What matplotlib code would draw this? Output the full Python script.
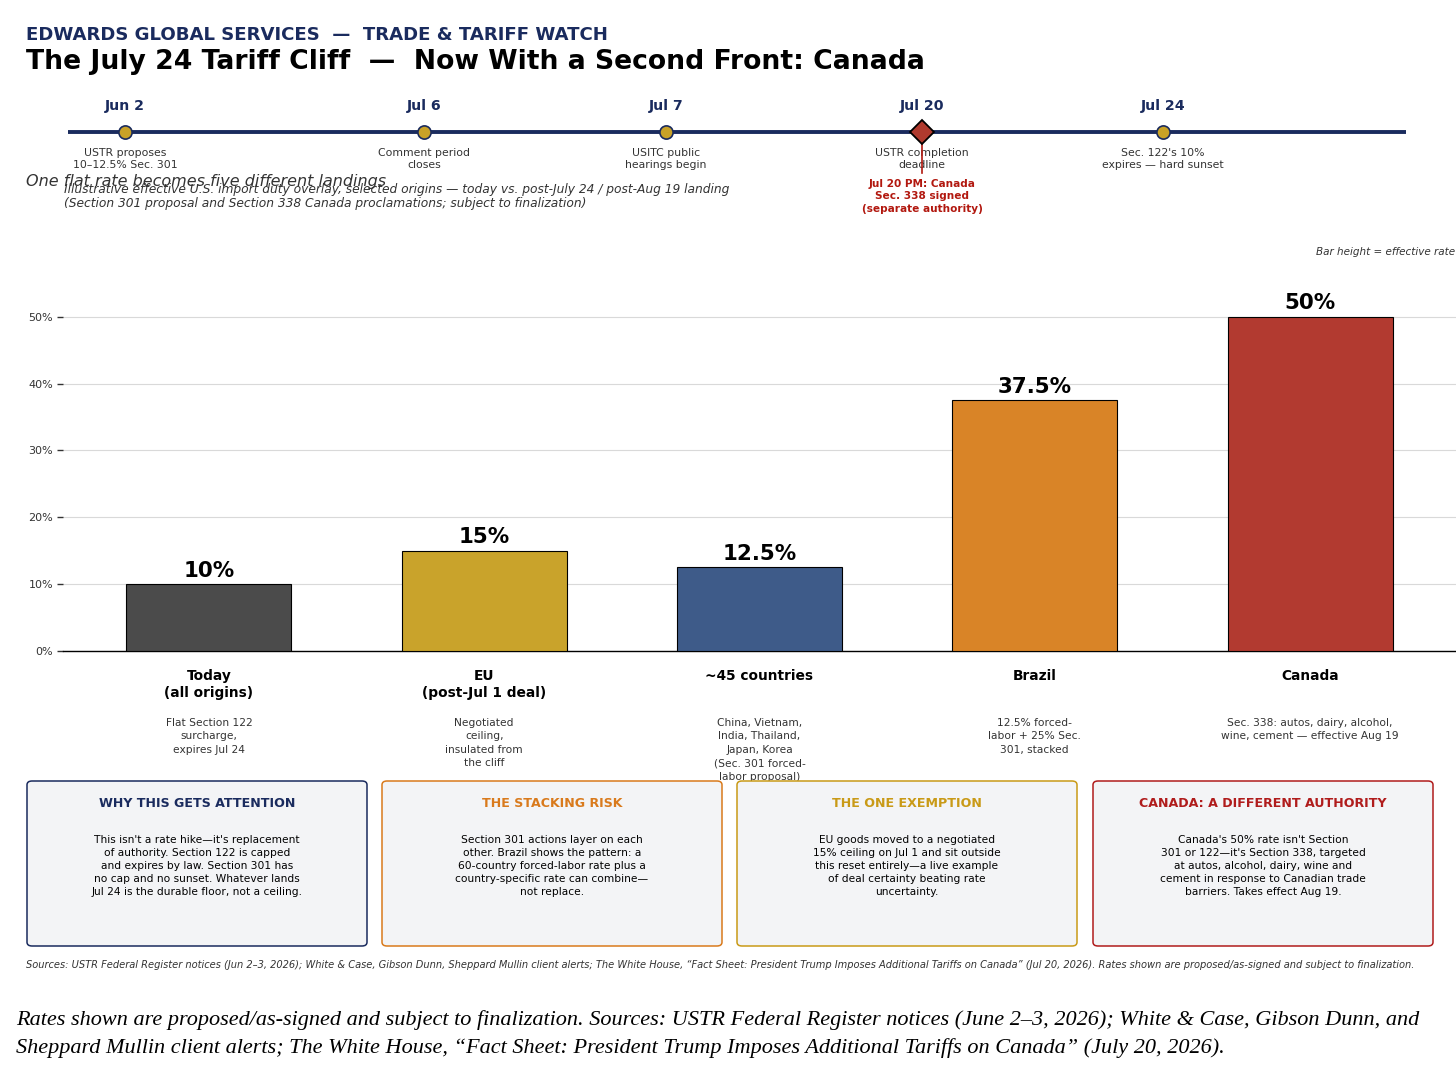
import matplotlib
matplotlib.use("Agg")
import matplotlib.pyplot as plt
from matplotlib.patches import FancyBboxPatch
from matplotlib.transforms import blended_transform_factory

plt.rcParams['font.family'] = ['DejaVu Sans']

W, H = 1456, 1092

# ---------------- data ----------------
header = "EDWARDS GLOBAL SERVICES  \u2014  TRADE & TARIFF WATCH"
title = "The July 24 Tariff Cliff  \u2014  Now With a Second Front: Canada"

timeline_dates = ["Jun 2", "Jul 6", "Jul 7", "Jul 20", "Jul 24"]
timeline_pos = [0.0, 1.158, 2.095, 3.087, 4.02]
timeline_desc = [
    "USTR proposes\n10\u201312.5% Sec. 301",
    "Comment period\ncloses",
    "USITC public\nhearings begin",
    "USTR completion\ndeadline",
    "Sec. 122's 10%\nexpires \u2014 hard sunset",
]
timeline_key = [False, False, False, True, False]
canada_note = "Jul 20 PM: Canada\nSec. 338 signed\n(separate authority)"

subtitle = "One flat rate becomes five different landings"
overlay_note = ("Illustrative effective U.S. import duty overlay, selected origins \u2014 today vs. post-July 24 / post-Aug 19 landing\n"
                "(Section 301 proposal and Section 338 Canada proclamations; subject to finalization)")
bar_note = "Bar height = effective rate"

categories = ["Today\n(all origins)", "EU\n(post-Jul 1 deal)", "~45 countries", "Brazil", "Canada"]
rates = [10, 15, 12.5, 37.5, 50]
rate_labels = ["10%", "15%", "12.5%", "37.5%", "50%"]
cat_desc = [
    "Flat Section 122\nsurcharge,\nexpires Jul 24",
    "Negotiated\nceiling,\ninsulated from\nthe cliff",
    "China, Vietnam,\nIndia, Thailand,\nJapan, Korea\n(Sec. 301 forced-\nlabor proposal)",
    "12.5% forced-\nlabor + 25% Sec.\n301, stacked",
    "Sec. 338: autos, dairy, alcohol,\nwine, cement \u2014 effective Aug 19",
]
bar_colors = ["#4b4b4b", "#c9a32b", "#3e5b89", "#d98427", "#b23a30"]
yticks = [0, 10, 20, 30, 40, 50]

box_titles = ["WHY THIS GETS ATTENTION", "THE STACKING RISK", "THE ONE EXEMPTION",
              "CANADA: A DIFFERENT AUTHORITY"]
box_bodies = [
    "This isn't a rate hike\u2014it's replacement\nof authority. Section 122 is capped\nand expires by law. Section 301 has\nno cap and no sunset. Whatever lands\nJul 24 is the durable floor, not a ceiling.",
    "Section 301 actions layer on each\nother. Brazil shows the pattern: a\n60-country forced-labor rate plus a\ncountry-specific rate can combine\u2014\nnot replace.",
    "EU goods moved to a negotiated\n15% ceiling on Jul 1 and sit outside\nthis reset entirely\u2014a live example\nof deal certainty beating rate\nuncertainty.",
    "Canada's 50% rate isn't Section\n301 or 122\u2014it's Section 338, targeted\nat autos, alcohol, dairy, wine and\ncement in response to Canadian trade\nbarriers. Takes effect Aug 19.",
]
box_colors = ["#1a2b5e", "#d97a1c", "#c99a17", "#b01c1c"]

sources = ("Sources: USTR Federal Register notices (Jun 2\u20133, 2026); White & Case, Gibson Dunn, Sheppard Mullin client alerts; "
           "The White House, \u201cFact Sheet: President Trump Imposes Additional Tariffs on Canada\u201d (Jul 20, 2026). "
           "Rates shown are proposed/as-signed and subject to finalization.")
footer = ("Rates shown are proposed/as-signed and subject to finalization. Sources: USTR Federal Register notices (June 2\u20133, 2026); White & Case, Gibson Dunn, and\n"
          "Sheppard Mullin client alerts; The White House, \u201cFact Sheet: President Trump Imposes Additional Tariffs on Canada\u201d (July 20, 2026).")

NAVY = "#1a2b5e"
GOLD = "#c9a227"
RED = "#b03a2e"
REDTXT = "#b2180f"
GREY = "#333333"


def fx(px):
    return px / W


def fy(py):
    return 1 - py / H


fig = plt.figure(figsize=(W / 100, H / 100), dpi=100)
fig.patch.set_facecolor("white")

# ---------------- header ----------------
fig.text(fx(26), fy(35), header, fontsize=13.1, fontweight="bold", color=NAVY, va="center", ha="left")
fig.text(fx(26), fy(62), title, fontsize=19.2, fontweight="bold", color="black", va="center", ha="left")

# ---------------- timeline ----------------
ax_tl = fig.add_axes([fx(68), fy(141.5), fx(1406 - 68), 20 / H])
ax_tl.set_xlim(-0.221, 4.961)
ax_tl.set_ylim(-1, 1)
ax_tl.axis("off")
ax_tl.axhline(0, color=NAVY, lw=2.8, zorder=1)
tl_tr = blended_transform_factory(ax_tl.transData, fig.transFigure)
for pos, date, desc, key in zip(timeline_pos, timeline_dates, timeline_desc, timeline_key):
    if key:
        ax_tl.plot([pos, pos], [fy(131), fy(173)], color=REDTXT, lw=1.2, transform=tl_tr, zorder=4, clip_on=False)
        ax_tl.plot(pos, 0, marker="D", ms=12.5, mfc=RED, mec="black", mew=1.3, zorder=5, clip_on=False)
        ax_tl.text(pos, fy(179), canada_note, transform=tl_tr, ha="center", va="top", fontsize=7.6,
                   fontweight="bold", color=REDTXT, linespacing=1.29)
    else:
        ax_tl.plot(pos, 0, marker="o", ms=9.5, mfc=GOLD, mec=NAVY, mew=1.2, zorder=5, clip_on=False)
    ax_tl.text(pos, fy(106), date, transform=tl_tr, ha="center", va="center", fontsize=10.2,
               fontweight="bold", color=NAVY)
    ax_tl.text(pos, fy(148), desc, transform=tl_tr, ha="center", va="top", fontsize=7.8,
               color=GREY, linespacing=1.2, zorder=2)

# ---------------- subtitle ----------------
fig.text(fx(26), fy(181.5), subtitle, fontsize=11.5, style="italic", color=GREY, va="center", ha="left")
fig.text(fx(64), fy(182.5), overlay_note, fontsize=8.8, style="italic", color=GREY, va="top", ha="left",
         linespacing=1.19)
fig.text(fx(1455), fy(252), bar_note, fontsize=7.5, style="italic", color=GREY, va="center", ha="right")

# ---------------- bar chart ----------------
ax = fig.add_axes([fx(63), fy(651), fx(1456 - 63), (651 - 270) / H])
x = list(range(len(categories)))
ax.bar(x, rates, width=0.6, color=bar_colors, edgecolor="black", linewidth=0.8, zorder=3)
ax.set_xlim(-0.53, 4.53)
ax.set_ylim(0, 57)
ax.set_yticks(yticks)
ax.set_yticklabels([f"{t}%" for t in yticks])
ax.set_xticks([])
ax.yaxis.grid(True, color="#d9d9d9", lw=0.8, zorder=0)
ax.set_axisbelow(True)
for s in ["left", "top", "right"]:
    ax.spines[s].set_visible(False)
ax.spines["bottom"].set_color("black")
ax.spines["bottom"].set_linewidth(1.0)
ax.tick_params(axis="y", length=4, width=1, color=GREY, labelsize=8, labelcolor=GREY, pad=3)

for xi, r, lab in zip(x, rates, rate_labels):
    ax.annotate(lab, (xi, r), xytext=(0, 2.5), textcoords="offset points", ha="center", va="bottom",
                fontsize=15.4, fontweight="bold", color="black")

btr = blended_transform_factory(ax.transData, fig.transFigure)
for xi, cat, desc in zip(x, categories, cat_desc):
    ax.text(xi, fy(669), cat, transform=btr, ha="center", va="top", fontsize=9.9, fontweight="bold",
            color="black", linespacing=1.29, clip_on=False)
    ax.text(xi, fy(718), desc, transform=btr, ha="center", va="top", fontsize=7.65, color=GREY,
            linespacing=1.43, clip_on=False)

# ---------------- boxes ----------------
box_left = [27, 382, 737, 1093]
box_w, box_top, box_bot = 340, 781, 946
for bl, t, body, c in zip(box_left, box_titles, box_bodies, box_colors):
    p = FancyBboxPatch((fx(bl), fy(box_bot)), fx(box_w), (box_bot - box_top) / H,
                       boxstyle="round,pad=0,rounding_size=0.0035", transform=fig.transFigure,
                       facecolor="#f3f4f6", edgecolor=c, linewidth=1.1, zorder=5)
    fig.add_artist(p)
    cx = fx(bl + box_w / 2)
    fig.text(cx, fy(803.5), t, fontsize=9.05, fontweight="bold", color=c, ha="center", va="center", zorder=6)
    fig.text(cx, fy(835), body, fontsize=7.7, color="black", ha="center", va="top", linespacing=1.37, zorder=6)

# ---------------- sources / footer ----------------
fig.text(fx(26), fy(965), sources, fontsize=7.1, style="italic", color=GREY, ha="left", va="center")
fig.text(fx(16), fy(1010), footer, fontsize=16, style="italic", family="Liberation Serif", color="black",
         ha="left", va="top", linespacing=1.58)

fig.savefig("out.png", dpi=100, facecolor="white")
